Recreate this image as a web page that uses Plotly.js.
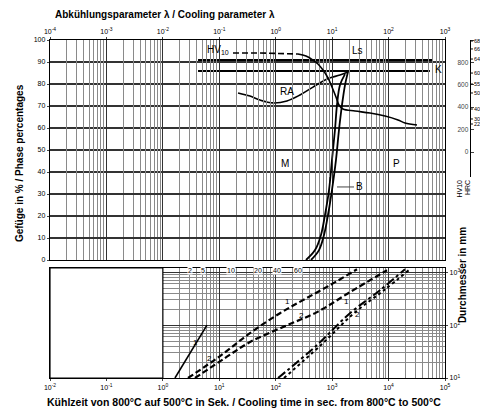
<!DOCTYPE html>
<html><head><meta charset="utf-8">
<script src="https://cdn.plot.ly/plotly-3.0.1.min.js"></script>
<style>html,body{margin:0;padding:0;background:#fff}</style>
</head><body><div id="chart" style="width:480px;height:410px"></div>
<script>
// ---- tick labels ----
const tTicks = [0.01, 0.1, 1, 10, 100, 1000, 10000, 100000];
const tTickText = ['10<sup>-2</sup>','10<sup>-1</sup>','10<sup>0</sup>','10<sup>1</sup>','10<sup>2</sup>','10<sup>3</sup>','10<sup>4</sup>','10<sup>5</sup>'];
const lamTicks = [1e-4, 1e-3, 1e-2, 1e-1, 1, 10, 100, 1000];
const lamTickText = ['10<sup>-4</sup>','10<sup>-3</sup>','10<sup>-2</sup>','10<sup>-1</sup>','10<sup>0</sup>','10<sup>1</sup>','10<sup>2</sup>','10<sup>3</sup>'];
const pctTicks = [0,10,20,30,40,50,60,70,80,90,100];
const hvTicks = [0,200,400,600,800,1000];
const dTicks = [10, 100, 1000];
const dTickText = ['10<sup>1</sup>','10<sup>2</sup>','10<sup>3</sup>'];

// ---- upper panel data (cooling time s, %) ----
const acT = [4.2, 61000];
const acUpperPct = [90.9, 90.9];
const acLowerT = [4.2, 54000];
const acLowerPct = [85.9, 85.9];

const hvDashT = [17.5, 52.6, 248];
const hvDash = [884, 884, 875];
const hvSolidT = [248, 344, 458, 561, 689, 844, 993, 1170, 1322, 1556, 2541, 4688, 8650, 14690, 19550, 31900];
const hvSolid = [875, 857, 821, 786, 732, 661, 580, 491, 420, 384, 366, 348, 321, 286, 259, 241];

const raT = [21.5, 35.0, 52.6, 89.5, 158, 269, 458, 811, 1377, 1910];
const raPct = [75.9, 74.5, 72.7, 71.4, 72.3, 75.0, 78.6, 82.3, 84.1, 85.5];

const curveAT = [344, 497, 634, 747, 880, 993, 1122, 1219, 1377, 1690];
const curveAPct = [0, 4.5, 11.4, 20.5, 31.8, 45.5, 59.1, 70.5, 79.5, 84.5];
const curveBT = [422, 585, 718, 844, 993, 1170, 1322, 1496, 1690, 1910];
const curveBPct = [0, 4.5, 11.4, 20.5, 31.8, 45.5, 59.1, 70.5, 79.5, 85.5];

// ---- lower panel data (cooling time s, diameter mm) ----
const solid1T = [1.64, 6.05];
const solid1D = [10, 100];
const dash1T = [2.79, 10.3, 35.0, 119, 304, 916, 2756];
const dash1D = [10, 26.0, 70.6, 168, 297, 569, 1140];
const dash2T = [3.71, 12.6, 35.0, 146, 539, 2071, 9380];
const dash2D = [10, 23.8, 47.8, 95.7, 176, 420, 1091];
const dd1T = [110, 539, 2071, 7046, 19550];
const dd1D = [10, 42.0, 168, 457, 1140];
const dd2T = [140, 634, 2440, 8300, 23970];
const dd2D = [10, 42.0, 168, 457, 1140];

// thickness labels along the top of the lower panel
const thickLabels = ['2', '5', '10', '20', '40', '60'];
const thickT = [3.03, 5.14, 16.1, 48.5, 105, 248];

// secondary hardness scale beside the HV axis
const hrcHV = [991, 920, 830, 705, 607, 527, 384, 295, 250];
const hrcText = ['68', '66', '64', '60', '55', '50', '40', '30', '22'];

// minor grid positions (2..9 per decade)
const minorT = [];
for (let e = -2; e < 5; e++) for (let m = 2; m <= 9; m++) minorT.push(m * Math.pow(10, e));
const minorD = [];
for (let e = 1; e < 4; e++) for (let m = 2; m <= 9; m++) minorD.push(m * Math.pow(10, e));

const K = 'black';
const traces = [
  {x: acT, y: acUpperPct, xaxis:'x', yaxis:'y', mode:'lines', line:{color:K, width:2}},
  {x: acLowerT, y: acLowerPct, xaxis:'x', yaxis:'y', mode:'lines', line:{color:K, width:2}},
  {x: hvDashT, y: hvDash, xaxis:'x', yaxis:'y3', mode:'lines', line:{color:K, width:1.6, dash:'6px,3px'}},
  {x: hvSolidT, y: hvSolid, xaxis:'x', yaxis:'y3', mode:'lines', line:{color:K, width:1.6, shape:'spline'}},
  {x: raT, y: raPct, xaxis:'x', yaxis:'y', mode:'lines', line:{color:K, width:1.6, shape:'spline'}},
  {x: curveAT, y: curveAPct, xaxis:'x', yaxis:'y', mode:'lines', line:{color:K, width:1.8, shape:'spline'}},
  {x: curveBT, y: curveBPct, xaxis:'x', yaxis:'y', mode:'lines', line:{color:K, width:1.8, shape:'spline'}},
  {x: [0.001], y: [null], xaxis:'x2', yaxis:'y', mode:'lines', hoverinfo:'skip'},
  {x: solid1T, y: solid1D, xaxis:'x3', yaxis:'y2', mode:'lines', line:{color:K, width:1.6}},
  {x: dash1T, y: dash1D, xaxis:'x3', yaxis:'y2', mode:'lines', line:{color:K, width:2.2, dash:'6px,3px', shape:'spline'}},
  {x: dash2T, y: dash2D, xaxis:'x3', yaxis:'y2', mode:'lines', line:{color:K, width:2.2, dash:'6px,3px', shape:'spline'}},
  {x: dd1T, y: dd1D, xaxis:'x3', yaxis:'y2', mode:'lines', line:{color:K, width:2, dash:'dashdot', shape:'spline'}},
  {x: dd2T, y: dd2D, xaxis:'x3', yaxis:'y2', mode:'lines', line:{color:K, width:2, dash:'dot', shape:'spline'}}
];

const dom = 395 / 420;
const gridMajor = '#333', gridMinor = '#8a8a8a';
const lg = v => Math.log10(v);

const annotations = [
  {text:'<b>Abkühlungsparameter λ / Cooling parameter λ</b>', xref:'paper', yref:'paper', x:0.007, y:1.074, xanchor:'left', yanchor:'middle', showarrow:false, font:{size:10}},
  {text:'<b>Kühlzeit von 800°C auf 500°C in Sek. / Cooling time in sec. from 800°C to 500°C</b>', xref:'paper', yref:'paper', x:0.463, y:-0.071, xanchor:'center', yanchor:'middle', showarrow:false, font:{size:10.5}},
  {text:'<b>Gefüge in % / Phase percentages</b>', xref:'paper', yref:'paper', x:-0.09, y:0.635, textangle:-90, showarrow:false, font:{size:10}},
  {text:'<b>Durchmesser in mm</b>', xref:'paper', yref:'paper', x:1.0, y:0.155, textangle:-90, showarrow:false, font:{size:10}},
  {text:'HV10', xref:'paper', yref:'paper', x:0.988, y:0.562, textangle:-90, showarrow:false, font:{size:7}},
  {text:'HRC', xref:'paper', yref:'paper', x:1.006, y:0.562, textangle:-90, showarrow:false, font:{size:7}},
  {text:'HV<sub>10</sub>', xref:'x', yref:'y', x:0.977, y:95.5, showarrow:false, font:{size:10}},
  {text:'Ls', xref:'x', yref:'y', x:3.458, y:95.3, showarrow:false, font:{size:10}},
  {text:'K', xref:'x', yref:'y', x:4.893, y:86.8, showarrow:false, font:{size:10}},
  {text:'RA', xref:'x', yref:'y', x:2.2, y:76.8, showarrow:false, font:{size:10}},
  {text:'M', xref:'x', yref:'y', x:2.164, y:44, showarrow:false, font:{size:10}},
  {text:'P', xref:'x', yref:'y', x:4.149, y:44, showarrow:false, font:{size:10}},
  {text:'B', xref:'x', yref:'y', x:3.086, y:33.2, showarrow:true, arrowhead:0, arrowwidth:1, ax:22, ay:0, font:{size:10}},
  {text:'1', xref:'x3', yref:'y2', x:lg(3.86), y:lg(47.8), showarrow:false, font:{size:8}},
  {text:'2', xref:'x3', yref:'y2', x:lg(6.58), y:lg(23.8), showarrow:false, font:{size:8}},
  {text:'1', xref:'x3', yref:'y2', x:lg(165), y:lg(284), showarrow:false, font:{size:8}},
  {text:'2', xref:'x3', yref:'y2', x:lg(292), y:lg(154), showarrow:false, font:{size:8}},
  {text:'1', xref:'x3', yref:'y2', x:lg(1832), y:lg(284), showarrow:false, font:{size:8}},
  {text:'2', xref:'x3', yref:'y2', x:lg(2871), y:lg(161), showarrow:false, font:{size:8}}
];
thickLabels.forEach((s, i) => annotations.push({text:s, xref:'x3', yref:'paper', x:lg(thickT[i]), y:0.305, showarrow:false, font:{size:7}, bgcolor:'white', borderpad:0}));
hrcHV.forEach((v, i) => annotations.push({text:hrcText[i], xref:'paper', yref:'y3', x:1.008, y:v, xanchor:'left', showarrow:false, font:{size:5.5}, borderpad:0}));

const shapes = [
  {type:'rect', xref:'x3 domain', yref:'y2 domain', x0:0, x1:2/7, y0:0, y1:1, fillcolor:'white', line:{color:K, width:1.2}, layer:'above'}
];
hrcHV.forEach(v => shapes.push({type:'line', xref:'paper', yref:'y3', x0:1, x1:1.007, y0:v, y1:v, line:{color:K, width:1}}));

const layout = {
  width:480, height:410,
  margin:{l:50, r:10, t:40, b:32},
  paper_bgcolor:'white', plot_bgcolor:'rgba(0,0,0,0)',
  font:{family:'Liberation Sans, Arial, sans-serif', size:8, color:K},
  showlegend:false,
  xaxis:{type:'log', range:[-2,5], domain:[0,dom], anchor:'y', tickvals:tTicks, showticklabels:false, ticks:'',
         showgrid:true, gridcolor:gridMajor, gridwidth:1.2,
         minor:{tickvals:minorT, showgrid:true, gridcolor:gridMinor, gridwidth:1, ticks:''},
         showline:true, linecolor:K, linewidth:1.2, zeroline:false},
  xaxis2:{type:'log', range:[-4,3], domain:[0,dom], anchor:'y', overlaying:'x', side:'top',
          tickmode:'array', tickvals:lamTicks, ticktext:lamTickText, ticks:'outside', ticklen:2,
          showgrid:false, showline:true, linecolor:K, linewidth:1.2, tickfont:{size:7}, zeroline:false},
  xaxis3:{type:'log', range:[-2,5], domain:[0,dom], anchor:'y2', tickmode:'array', tickvals:tTicks, ticktext:tTickText,
          ticks:'outside', ticklen:2, tickfont:{size:7},
          showgrid:true, gridcolor:gridMajor, gridwidth:1.2,
          minor:{tickvals:minorT, showgrid:true, gridcolor:gridMinor, gridwidth:1, ticks:''},
          showline:true, mirror:true, linecolor:K, linewidth:1.2, zeroline:false},
  yaxis:{domain:[118/338, 1], range:[0,100], anchor:'x', tickmode:'array', tickvals:pctTicks,
         ticks:'outside', ticklen:2, tickfont:{size:7},
         showgrid:true, gridcolor:gridMajor, gridwidth:1.2,
         showline:true, mirror:true, linecolor:K, linewidth:1.2, zeroline:false},
  yaxis2:{type:'log', domain:[0, 110/338], range:[1,3.08], anchor:'x3', side:'right', tickmode:'array',
          tickvals:dTicks, ticktext:dTickText, ticks:'outside', ticklen:2, tickfont:{size:7},
          showgrid:true, gridcolor:gridMajor, gridwidth:1.2,
          minor:{tickvals:minorD, showgrid:true, gridcolor:gridMinor, gridwidth:1, ticks:''},
          showline:true, mirror:true, linecolor:K, linewidth:1.2, zeroline:false},
  yaxis3:{domain:[201/338, 1], range:[-223,1000], anchor:'free', position:1, side:'right', tickmode:'array',
          tickvals:hvTicks, ticks:'outside', ticklen:3, ticklabelposition:'inside', tickfont:{size:6.5},
          showgrid:false, zeroline:false, showline:true, linecolor:K, linewidth:1},
  annotations: annotations,
  shapes: shapes
};

Plotly.newPlot('chart', traces, layout, {staticPlot:true, displayModeBar:false});
</script></body></html>
